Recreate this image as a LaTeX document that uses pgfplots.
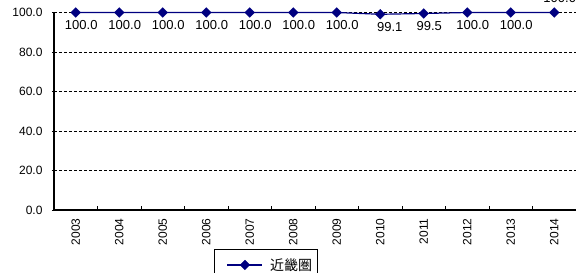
\documentclass[border=0pt]{standalone}
\usepackage{fontspec}
\setmainfont{Liberation Sans}
\newfontfamily\jp{Noto Sans CJK JP}
\usepackage{pgfplots}
\pgfplotsset{compat=1.18}
\definecolor{navy}{RGB}{0,0,128}
\begin{document}
\begin{tikzpicture}[x=1pt,y=1pt]
\begin{axis}[
  at={(54pt,63pt)}, anchor=south west,
  scale only axis, width=522pt, height=197.5pt,
  xmin=-0.5, xmax=11.5, ymin=0, ymax=100,
  axis x line=bottom, axis y line=left,
  axis line style={-, line width=1.5pt},
  xtick={0,...,11},
  xticklabels={2003,2004,2005,2006,2007,2008,2009,2010,2011,2012,2013,2014},
  major x tick style={draw=none},
  minor xtick={0.5,1.5,...,10.5},
  minor x tick style={black, line width=0.8pt},
  minor tick length=4pt,
  xtick align=inside,
  ytick align=outside,
  major tick length=2pt,
  x tick label style={rotate=90, anchor=east, font=\fontsize{12}{12}\selectfont, xshift=-5pt},
  ytick={0,20,...,100},
  yticklabel style={font=\fontsize{12}{12}\selectfont, xshift=-6pt},
  /pgf/number format/.cd, fixed, fixed zerofill, precision=1, assume math mode=true,
  /pgfplots/.cd,
  ymajorgrids, y grid style={black, line width=0.7pt, dash pattern=on 3pt off 2pt},
  major y tick style={black, line width=0.7pt},
  clip=false,
  nodes near coords,
  nodes near coords style={text=black, font=\fontsize{13}{13}\selectfont, anchor=north, yshift=-7pt, xshift=5.5pt, inner sep=1pt, /pgf/number format/.cd, fixed, fixed zerofill, precision=1, assume math mode=true},
  coordinate style/.condition={x==11}{yshift=27pt},
  coordinate style/.condition={x==7}{xshift=4pt},
  legend style={at={(0.3065,-0.197)}, anchor=north west, draw=black, line width=0.8pt, font=\fontsize{14}{15}\selectfont\jp, inner xsep=3pt, inner ysep=7pt, legend cell align=left},
  legend image code/.code={
    \draw[white, line width=0.1pt] (0pt,0pt) -- (10pt,0pt);
    \draw[#1, mark repeat=2, mark phase=2] plot coordinates {(10pt,0pt) (27.5pt,0pt) (45pt,0pt)};
  },
]
\addplot[navy, line width=1.2pt, mark=square*, mark size=3.4pt, mark options={fill=navy, draw=navy, line width=0.4pt, rotate=45}]
  coordinates {(0,100)(1,100)(2,100)(3,100)(4,100)(5,100)(6,100)(7,99.1)(8,99.5)(9,100)(10,100)(11,100)};
\addlegendentry{\hspace{5pt}近畿圏}
\end{axis}
\pgfresetboundingbox
\path[use as bounding box] (0,0) rectangle (576,273);
\end{tikzpicture}
\end{document}
